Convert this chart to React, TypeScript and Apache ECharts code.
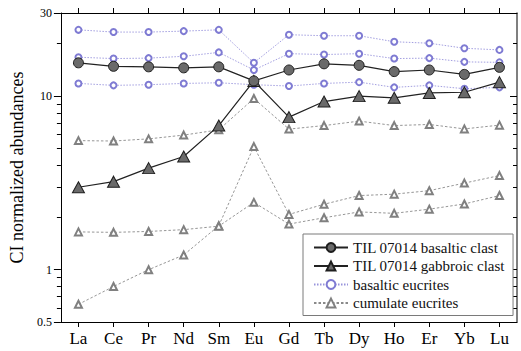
import React, { useEffect, useRef } from "react";
import * as echarts from "echarts";

const elements = ["La", "Ce", "Pr", "Nd", "Sm", "Eu", "Gd", "Tb", "Dy", "Ho", "Er", "Yb", "Lu"];

const basalticClast = [15.5, 14.8, 14.7, 14.5, 14.7, 12.2, 14.1, 15.3, 15.0, 13.8, 14.1, 13.3, 14.6];
const gabbroicClast = [2.98, 3.21, 3.84, 4.48, 6.75, 12.2, 7.55, 9.28, 9.97, 9.75, 10.4, 10.5, 12.0];

const basalticEucrite1 = [24.0, 23.3, 23.3, 23.6, 24.0, 15.5, 22.5, 22.2, 22.2, 20.5, 20.1, 18.8, 18.4];
const basalticEucrite2 = [16.7, 16.4, 16.5, 16.9, 17.8, 14.1, 17.5, 17.3, 17.5, 16.4, 16.5, 15.7, 15.6];
const basalticEucrite3 = [11.8, 11.5, 11.6, 11.8, 11.9, 11.6, 11.4, 11.8, 12.0, 11.2, 11.5, 11.0, 11.2];

const cumulateEucrite1 = [5.53, 5.5, 5.66, 5.95, 6.38, 9.66, 6.44, 6.75, 7.16, 6.75, 6.85, 6.46, 6.79];
const cumulateEucrite2 = [0.632, 0.8, 1.0, 1.215, 1.79, 5.11, 2.08, 2.38, 2.67, 2.72, 2.85, 3.15, 3.48];
const cumulateEucrite3 = [1.65, 1.64, 1.66, 1.7, 1.78, 2.44, 1.83, 1.99, 2.15, 2.11, 2.23, 2.39, 2.67];

const majorTicks = [0.5, 1, 10, 30];
const minorTicks = [0.6, 0.7, 0.8, 0.9, 2, 3, 4, 5, 6, 7, 8, 9, 20];

const NAME_BC = "TIL 07014 basaltic clast";
const NAME_GC = "TIL 07014 gabbroic clast";
const NAME_BE = "basaltic eucrites";
const NAME_CE = "cumulate eucrites";

const SERIF = "Liberation Serif";

export default function App() {
  const ref = useRef<HTMLDivElement>(null);

  useEffect(() => {
    if (!ref.current) return;
    const chart = echarts.init(ref.current, null, { renderer: "svg" });

    const yBase = (extra: any) => ({
      type: "log",
      logBase: 10,
      min: 0.5,
      max: 30,
      gridIndex: 0,
      splitLine: { show: false },
      ...extra,
    });

    const beStyle = (data: number[]) => ({
      type: "line",
      name: NAME_BE,
      data,
      symbol: "emptyCircle",
      symbolSize: 6,
      z: 2,
      itemStyle: { color: "#7f7bd3", borderWidth: 0.9 },
      lineStyle: { color: "#9894dc", width: 0.9, type: [1.5, 1.5] },
    });
    const ceStyle = (data: number[]) => ({
      type: "line",
      name: NAME_CE,
      data,
      symbol: "emptyTriangle",
      symbolSize: 7,
      z: 2,
      itemStyle: { color: "#808080", borderWidth: 0.9 },
      lineStyle: { color: "#8a8a8a", width: 0.9, type: [2.5, 2] },
    });

    chart.setOption({
      animation: false,
      backgroundColor: "#fff",
      textStyle: { fontFamily: SERIF },
      grid: { left: 43.5, right: 4, top: 13, bottom: 29, containLabel: false },
      legend: {
        orient: "vertical",
        left: 303,
        top: 234,
        padding: [6, 8, 5, 10],
        itemWidth: 34,
        itemHeight: 11,
        itemGap: 3.5,
        borderColor: "#7a7a7a",
        borderWidth: 1,
        backgroundColor: "#fff",
        textStyle: { fontFamily: SERIF, fontSize: 15, color: "#111" },
        data: [NAME_BC, NAME_GC, NAME_BE, NAME_CE],
      },
      xAxis: [
        {
          type: "category",
          data: elements,
          position: "bottom",
          boundaryGap: true,
          axisLine: { show: true, lineStyle: { color: "#000", width: 1 } },
          axisTick: { show: true, alignWithLabel: true, length: 5, lineStyle: { color: "#000" } },
          axisLabel: { fontFamily: SERIF, fontSize: 17, color: "#000", margin: 8 },
          splitLine: { show: false },
        },
        {
          type: "category",
          data: elements,
          position: "top",
          boundaryGap: true,
          axisLine: { show: true, lineStyle: { color: "#000", width: 1 } },
          axisTick: { show: true, alignWithLabel: true, length: 5, lineStyle: { color: "#000" } },
          axisLabel: { show: false },
          splitLine: { show: false },
        },
      ],
      yAxis: [
        yBase({
          position: "left",
          name: "CI normalized abundances",
          nameLocation: "middle",
          nameGap: 17,
          nameTextStyle: { fontFamily: SERIF, fontSize: 18, color: "#000" },
          axisLine: { show: true, lineStyle: { color: "#000", width: 1 } },
          axisTick: { show: true, length: 7, customValues: majorTicks, lineStyle: { color: "#000" } },
          axisLabel: {
            customValues: majorTicks,
            fontFamily: SERIF,
            fontSize: 12,
            color: "#000",
            margin: 9,
          },
        }),
        yBase({
          position: "left",
          axisLine: { show: false },
          axisTick: { show: true, length: 4, customValues: minorTicks, lineStyle: { color: "#000" } },
          axisLabel: { show: false },
        }),
        yBase({
          position: "right",
          axisLine: { show: true, lineStyle: { color: "#555", width: 1.5 } },
          axisTick: { show: true, inside: true, length: 7, customValues: majorTicks, lineStyle: { color: "#000" } },
          axisLabel: { show: false },
        }),
        yBase({
          position: "right",
          axisLine: { show: false },
          axisTick: { show: true, inside: true, length: 4, customValues: minorTicks, lineStyle: { color: "#000" } },
          axisLabel: { show: false },
        }),
      ],
      series: [
        beStyle(basalticEucrite1),
        beStyle(basalticEucrite2),
        beStyle(basalticEucrite3),
        ceStyle(cumulateEucrite1),
        ceStyle(cumulateEucrite2),
        ceStyle(cumulateEucrite3),
        {
          type: "line",
          name: NAME_GC,
          data: gabbroicClast,
          symbol: "triangle",
          symbolSize: [12, 11],
          z: 4,
          itemStyle: { color: "#6a6a6a", borderColor: "#1e1e1e", borderWidth: 1 },
          lineStyle: { color: "#222", width: 1.2 },
        },
        {
          type: "line",
          name: NAME_BC,
          data: basalticClast,
          symbol: "circle",
          symbolSize: 10,
          z: 5,
          itemStyle: { color: "#6a6a6a", borderColor: "#1e1e1e", borderWidth: 1 },
          lineStyle: { color: "#222", width: 1.2 },
        },
      ],
    });

    return () => chart.dispose();
  }, []);

  return <div ref={ref} style={{ width: 521, height: 351, position: "absolute", left: 0, top: 0 }} />;
}
